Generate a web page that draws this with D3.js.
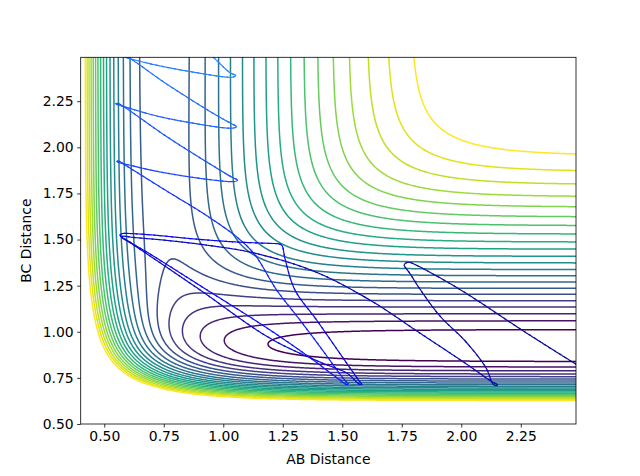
<!DOCTYPE html>
<html>
<head>
<meta charset="utf-8">
<script src="https://cdn.jsdelivr.net/npm/d3@7"></script>
<style>
  body { margin: 0; background: #fff; }
  text { font-family: "DejaVu Sans", sans-serif; }
</style>
</head>
<body>
<div class="chart"></div>
<script>
// contour levels (eV), lowest -> highest
const levels = [-5.90,-5.67,-5.45,-5.22,-5.00,-4.77,-4.55,-4.32,-4.09,-3.87,-3.64,
  -3.42,-3.19,-2.97,-2.74,-2.51,-2.29,-2.06,-1.84,-1.61,-1.39,-1.16];

// LEPS bond parameters (A-B is H-H, B-C and A-C are H-F)
const bondHH = { D: 4.746, beta: 1.942, re: 0.742, sato: 0.19 };
const bondHF = { D: 6.122, beta: 2.219, re: 0.917, sato: 0.167 };

const xTicks = [0.50, 0.75, 1.00, 1.25, 1.50, 1.75, 2.00, 2.25];
const yTicks = [0.50, 0.75, 1.00, 1.25, 1.50, 1.75, 2.00, 2.25];

// trajectory
const trajAB = [0.80,0.93,1.030,1.047,1.052,1.044,1.02,0.90,0.72,0.585,0.560,0.552,0.562,0.59,0.76,
  0.95,1.035,1.050,1.056,1.048,1.02,0.90,0.72,0.58,0.556,0.548,0.556,0.58,0.76,0.95,1.038,1.054,
  1.060,1.052,1.03,0.90,0.72,0.585,0.560,0.553,0.561,0.59,0.76,0.937,1.063,1.133,1.224,1.322,1.423,
  1.490,1.517,1.526,1.518,1.48,1.364,1.196,0.903,0.692,0.590,0.570,0.566,0.575,0.60,0.70,0.881,1.05,
  1.20,1.231,1.243,1.249,1.259,1.301,1.392,1.486,1.553,1.575,1.582,1.572,1.52,1.406,1.196,0.902,
  0.692,0.600,0.576,0.571,0.58,0.62,0.75,0.923,1.133,1.385,1.616,1.826,2.015,2.130,2.152,2.150,
  2.135,2.104,2.020,1.910,1.826,1.780,1.764,1.760,1.767,1.781,1.80,1.992,2.272,2.482,2.55];
const trajBC = [2.64,2.52,2.403,2.394,2.388,2.382,2.380,2.402,2.445,2.488,2.497,2.503,2.508,2.496,
  2.345,2.19,2.128,2.118,2.112,2.106,2.104,2.125,2.17,2.222,2.231,2.236,2.238,2.222,2.06,1.905,
  1.837,1.828,1.822,1.816,1.814,1.832,1.87,1.91,1.918,1.923,1.925,1.902,1.765,1.624,1.507,1.417,
  1.227,1.064,0.890,0.771,0.728,0.716,0.714,0.748,0.860,1.010,1.250,1.422,1.500,1.518,1.526,1.532,
  1.533,1.525,1.503,1.487,1.479,1.477,1.472,1.462,1.399,1.227,1.064,0.890,0.766,0.727,0.716,0.716,
  0.775,0.836,0.965,1.227,1.411,1.490,1.508,1.515,1.518,1.512,1.497,1.471,1.426,1.326,1.172,0.993,
  0.831,0.728,0.713,0.708,0.714,0.804,0.945,1.086,1.232,1.324,1.350,1.362,1.373,1.376,1.368,1.231,
  0.995,0.824,0.77];

const W = 640, H = 476;
const margin = { top: 57.3, right: 64, bottom: 52, left: 80.7 };
const xDomain = [0.401, 2.482], yDomain = [0.5, 2.488];

const x = d3.scaleLinear().domain(xDomain).range([margin.left, W - margin.right]);
const y = d3.scaleLinear().domain(yDomain).range([H - margin.bottom, margin.top]);

// collinear LEPS surface
function coul(b, r) {
  const e = Math.exp(-b.beta * (r - b.re));
  return b.D / (4 * (1 + b.sato)) * ((3 + b.sato) * e * e - (2 + 6 * b.sato) * e);
}
function exch(b, r) {
  const e = Math.exp(-b.beta * (r - b.re));
  return b.D / (4 * (1 + b.sato)) * ((1 + 3 * b.sato) * e * e - (6 + 2 * b.sato) * e);
}
function leps(rab, rbc) {
  const rac = rab + rbc;
  const q = coul(bondHH, rab) + coul(bondHF, rbc) + coul(bondHF, rac);
  const ja = exch(bondHH, rab), jb = exch(bondHF, rbc), jc = exch(bondHF, rac);
  return q - Math.sqrt(0.5 * ((ja - jb) ** 2 + (jb - jc) ** 2 + (jc - ja) ** 2));
}

// sample the surface a little beyond the axes so edge rings fall outside the clip
const step = 0.004, gx0 = 0.38, gy0 = 0.48;
const nx = Math.ceil((2.51 - gx0) / step) + 1, ny = Math.ceil((2.51 - gy0) / step) + 1;
const grid = new Float64Array(nx * ny);
for (let j = 0; j < ny; j++)
  for (let i = 0; i < nx; i++)
    grid[j * nx + i] = leps(gx0 + i * step, gy0 + j * step);

const svg = d3.select(".chart").append("svg").attr("width", W).attr("height", H);

svg.append("clipPath").attr("id", "plot").append("rect")
  .attr("x", margin.left).attr("y", margin.top)
  .attr("width", W - margin.left - margin.right).attr("height", H - margin.top - margin.bottom);

const toPx = d3.geoTransform({
  point(gx, gy) { this.stream.point(x(gx0 + (gx - 0.5) * step), y(gy0 + (gy - 0.5) * step)); }
});
const path = d3.geoPath(toPx);
const color = d3.scaleSequential(d3.interpolateViridis).domain([levels[0], levels[levels.length - 1]]);

const contours = d3.contours().size([nx, ny]).thresholds(levels)(grid);
svg.append("g").attr("clip-path", "url(#plot)")
  .selectAll("path").data(contours).join("path")
  .attr("d", path)
  .attr("fill", "none")
  .attr("stroke", d => color(d.value))
  .attr("stroke-width", 1.5);

// trajectory, coloured along its length (light blue -> navy)
const pts = trajAB.map((a, i) => [x(a), y(trajBC[i])]);
const line = d3.line().curve(d3.curveCatmullRom.alpha(0.5));
const guide = svg.append("path").attr("d", line(pts)).attr("fill", "none").attr("stroke", "none");
const total = guide.node().getTotalLength();
const trajColor = d3.scaleLinear().domain([0, 0.45, 1]).range(["#2a8cff", "#0a0aff", "#0c0c90"]);
const tg = svg.append("g").attr("clip-path", "url(#plot)");
const chunk = 6;
for (let s = 0; s < total; s += chunk) {
  const seg = [];
  for (let t = s; t <= Math.min(s + chunk + 1, total); t += 1) {
    const p = guide.node().getPointAtLength(t);
    seg.push([p.x, p.y]);
  }
  tg.append("path").attr("d", d3.line()(seg)).attr("fill", "none")
    .attr("stroke", trajColor(s / total)).attr("stroke-width", 1.2)
    .attr("stroke-linecap", "round");
}
guide.remove();

// axes
const fs = "13.9px";
const xAxis = svg.append("g").attr("transform", `translate(0,${H - margin.bottom})`)
  .call(d3.axisBottom(x).tickValues(xTicks).tickFormat(d3.format(".2f")).tickSize(3.5).tickPadding(3.5));
const yAxis = svg.append("g").attr("transform", `translate(${margin.left},0)`)
  .call(d3.axisLeft(y).tickValues(yTicks).tickFormat(d3.format(".2f")).tickSize(3.5).tickPadding(3.5));
[xAxis, yAxis].forEach(g => {
  g.select(".domain").remove();
  g.selectAll("line").attr("stroke", "#000").attr("stroke-width", 0.8);
  g.selectAll("text").attr("font-size", fs).attr("fill", "#000").attr("font-family", "DejaVu Sans");
});
svg.append("rect").attr("x", margin.left).attr("y", margin.top)
  .attr("width", W - margin.left - margin.right).attr("height", H - margin.top - margin.bottom)
  .attr("fill", "none").attr("stroke", "#000").attr("stroke-width", 0.8);

svg.append("text").attr("x", (margin.left + W - margin.right) / 2).attr("y", 464)
  .attr("text-anchor", "middle").attr("font-size", fs).text("AB Distance");
svg.append("text").attr("transform", `translate(31,${(margin.top + H - margin.bottom) / 2}) rotate(-90)`)
  .attr("text-anchor", "middle").attr("font-size", fs).text("BC Distance");
</script>
</body>
</html>
